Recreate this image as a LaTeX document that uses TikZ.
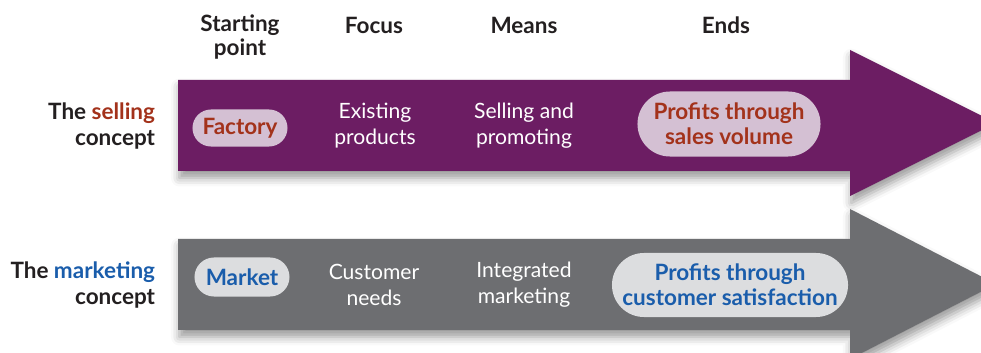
\documentclass[tikz,border=0pt]{standalone}
\usepackage{fontspec}
\setmainfont{Lato}
\usetikzlibrary{shapes.misc,shadows.blur}

\definecolor{sellpurple}{HTML}{6C1D63}
\definecolor{markgray}{HTML}{6D6E71}
\definecolor{sellpill}{HTML}{D4C0D3}
\definecolor{markpill}{HTML}{DCDDDF}
\definecolor{sellred}{HTML}{A3321B}
\definecolor{markblue}{HTML}{1A5DAB}
\definecolor{inkblack}{HTML}{231F20}

\tikzset{
  colhead/.style={font=\bfseries\fontsize{16}{17.5}\selectfont,align=center,text=inkblack},
  rowlabel/.style={font=\bfseries\fontsize{16}{18.5}\selectfont,align=right,anchor=east,text=inkblack},
  stage/.style={font=\fontsize{15}{18.5}\selectfont,align=center,text=white},
  pill/.style={rounded rectangle,inner sep=0pt,align=center,font=\bfseries\fontsize{16}{18}\selectfont},
  arrowshadow/.style={blur shadow={shadow xshift=1pt,shadow yshift=-5pt,shadow blur radius=6pt,shadow opacity=40}}
}

\begin{document}
\begin{tikzpicture}[x=0.025cm,y=-0.025cm]
\useasboundingbox (0,0) rectangle (981,353);

% Column headings
\node[colhead] (hstart) at (240,37) {Starting\\point};
\node[colhead] (hfocus) at (374,25) {Focus};
\node[colhead] (hmeans) at (524,25) {Means};
\node[colhead] (hends)  at (726,25) {Ends};

% Big arrows
\fill[sellpurple,arrowshadow] (178,80) -- (850,80) -- (850,50) -- (996,123)
  -- (850,196) -- (850,171) -- (178,171) -- cycle;
\fill[markgray,arrowshadow] (178,239) -- (850,239) -- (850,209) -- (996,284)
  -- (850,359) -- (850,330) -- (178,330) -- cycle;

% Selling concept
\node[rowlabel] (sellrow) at (160,126) {The \textcolor{sellred}{selling}\\concept};
\node[pill,fill=sellpill,text=sellred,minimum width=2.375cm,minimum height=0.925cm]
  (factory) at (240,128) {Factory};
\node[stage] (existing) at (375,126) {Existing\\products};
\node[stage] (promote) at (524,126) {Selling and\\promoting};
\node[pill,fill=sellpill,text=sellred,minimum width=4.575cm,minimum height=1.625cm]
  (salesvol) at (729,124) {Profits through\\sales volume};

% Marketing concept
\node[rowlabel] (markrow) at (160,285) {The \textcolor{markblue}{marketing}\\concept};
\node[pill,fill=markpill,text=markblue,minimum width=2.375cm,minimum height=0.975cm]
  (market) at (242,277) {Market};
\node[stage] (needs) at (374,285) {Customer\\needs};
\node[stage] (integrated) at (524,285) {Integrated\\marketing};
\node[pill,fill=markpill,text=markblue,minimum width=5.9cm,minimum height=1.6cm]
  (satisfy) at (730,285) {Profits through\\customer satisfaction};

\end{tikzpicture}
\end{document}
